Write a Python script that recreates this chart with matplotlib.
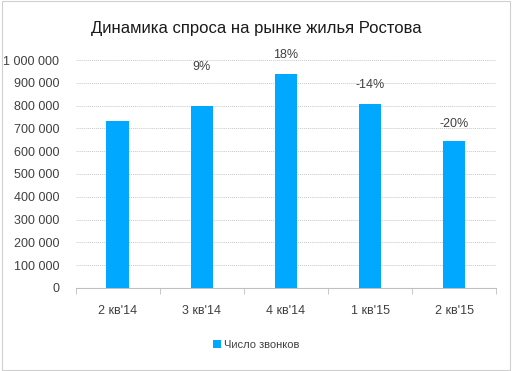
import matplotlib.pyplot as plt
from matplotlib.ticker import FuncFormatter, MultipleLocator

# data
quarters = ["2 кв'14", "3 кв'14", "4 кв'14", "1 кв'15", "2 кв'15"]
calls = [732000, 798000, 940000, 808000, 645000]
changes = ["", "9%", "18%", "-14%", "-20%"]
label_offsets = [0, 24, 9, 9, 8]  # points above bar top

plt.rcParams['font.family'] = ['Liberation Sans', 'DejaVu Sans']

fig = plt.figure(figsize=(5.12, 3.71), dpi=100)
ax = fig.add_axes([0.148, 0.224, 0.821, 0.614])

xs = range(len(quarters))
ax.bar(xs, calls, width=0.27, color="#00a8ff", label="Число звонков", zorder=3)

# percent change labels
for x, v, txt, off in zip(xs, calls, changes, label_offsets):
    if txt:
        ax.annotate(txt, (x, v), xytext=(0, off), textcoords="offset points",
                    ha="center", va="bottom", fontsize=9, color="#404040")

ax.set_xlim(-0.5, len(quarters) - 0.5)
ax.set_ylim(0, 1000000)
ax.yaxis.set_major_locator(MultipleLocator(100000))
ax.yaxis.set_major_formatter(FuncFormatter(lambda v, p: f"{int(v):,}".replace(",", " ")))
ax.grid(axis="y", color="#c8c8c8", linestyle=(0, (1, 1)), linewidth=0.7, zorder=0)

ax.set_xticks(list(xs))
ax.set_xticklabels(quarters)
ax.set_xticks([i - 0.5 for i in range(len(quarters) + 1)], minor=True)
ax.tick_params(axis="x", which="major", length=0, pad=12, labelsize=9, labelcolor="#404040")
ax.tick_params(axis="x", which="minor", length=4, color="#bfbfbf")
ax.tick_params(axis="y", length=0, labelsize=9, labelcolor="#404040", pad=12)

for s in ["top", "right", "left"]:
    ax.spines[s].set_visible(False)
ax.spines["bottom"].set_color("#bfbfbf")

fig.text(0.5, 0.922, "Динамика спроса на рынке жилья Ростова", ha="center", va="center",
         fontsize=12, color="#1a1a1a")

fig.legend(loc="center", bbox_to_anchor=(0.5, 0.07), frameon=False, fontsize=8,
           handlelength=0.7, handleheight=0.7, handletextpad=0.3, labelcolor="#404040")

fig.patches.append(plt.Rectangle((0.003, 0.004), 0.994, 0.992, transform=fig.transFigure,
                                 fill=False, edgecolor="#d0d0d0", linewidth=0.8))

fig.savefig("out.png", dpi=100)
